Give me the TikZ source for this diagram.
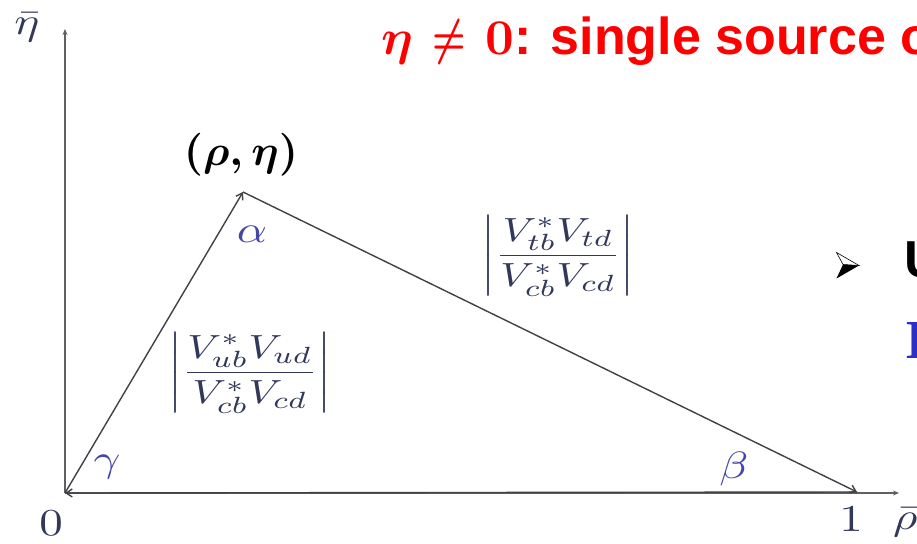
\documentclass[tikz,border=0pt]{standalone}
\usepackage{amsmath}
\usepackage{graphicx}
\usepackage{fontspec}
\setsansfont{Liberation Sans}
\newfontfamily\lserif{Liberation Serif}
\usetikzlibrary{arrows.meta}
\definecolor{axcol}{RGB}{95,95,100}
\definecolor{sidecol}{RGB}{65,65,70}
\definecolor{greekcol}{RGB}{70,70,170}
\definecolor{fraccol}{RGB}{50,56,90}
\definecolor{titlered}{RGB}{255,0,0}
\definecolor{bulletblue}{RGB}{45,45,200}
\newcommand{\mbx}[1]{\scalebox{4.7}[3.8]{$#1$}}
\newcommand{\fbx}[1]{\scalebox{4.2}[3.35]{$#1$}}
\begin{document}
\begin{tikzpicture}[x=1pt,y=-1pt,
  axis/.style={draw=axcol, line width=1.8pt, -{Stealth[length=6pt,width=5pt]}},
  side/.style={draw=sidecol, line width=1.4pt, -{Straight Barb[length=6pt,width=8pt]}},
  lbl/.style={inner sep=0pt, text=fraccol},
  greek/.style={inner sep=0pt, text=greekcol}]
\fill[white] (0,0) rectangle (917,543);
\useasboundingbox (0,0) rectangle (917,543);
\clip (0,0) rectangle (917,543);
% points
\coordinate (O) at (65,493);
\coordinate (A) at (243,192);
\coordinate (B) at (857,492);
\coordinate (xend) at (899,493);
\coordinate (yend) at (65,29);
% axes
\draw[axis] (O) -- (xend);
\draw[axis] (O) -- (yend);
% triangle
\draw[side] (O) -- (A);
\draw[side] (A) -- (B);
\draw[side] (B) -- (O);
% axis labels
\node[lbl] (etabar) at (27,27) {\mbx{\bar\eta}};
\node[lbl] (zero) at (51,523) {\mbx{0}};
\node[lbl] (one) at (851,519) {\mbx{1}};
\node[lbl, anchor=west] (rhobar) at (893,522) {\mbx{\bar\rho}};
% angles
\node[greek] (alpha) at (252,234) {\mbx{\alpha}};
\node[greek] (beta) at (734,469) {\mbx{\beta}};
\node[greek] (gamma) at (107,467) {\mbx{\gamma}};
% side lengths
\node[lbl] (fracL) at (250,373) {\fbx{\left|\dfrac{V_{ub}^{*}V_{ud}}{V_{cb}^{*}V_{cd}}\right|}};
\node[lbl] (fracR) at (558,256) {\fbx{\left|\dfrac{V_{tb}^{*}V_{td}}{V_{cb}^{*}V_{cd}}\right|}};
% apex label
\node[inner sep=0pt, text=black] (apex) at (241,155) {\scalebox{4.3}{$\boldsymbol{(\rho,\eta)}$}};
% title
\node[anchor=base west, inner sep=0pt, text=titlered] (title) at (381,55)
  {\scalebox{5.0}{$\boldsymbol{\eta}\mskip7mu{\scalebox{0.75}[1]{$\boldsymbol{\neq}$}}\mskip7mu\boldsymbol{0}$}\sffamily\bfseries\fontsize{52}{60}\selectfont: single source o};
% bullet
\filldraw[fill=white, draw=black, line width=0.6pt] (836.5,252.5) -- (859,265.5) -- (843,264.5) -- cycle;
\fill[black] (843,264.5) -- (859,265.5) -- (836.5,278.5) -- cycle;
\node[anchor=base west, inner sep=0pt, text=black] (utext) at (904,277)
  {\sffamily\bfseries\fontsize{52}{60}\selectfont U};
\node[anchor=base west, inner sep=0pt, text=bulletblue] (btext) at (905,358)
  {\lserif\bfseries\fontsize{55}{60}\selectfont I};
\end{tikzpicture}
\end{document}
